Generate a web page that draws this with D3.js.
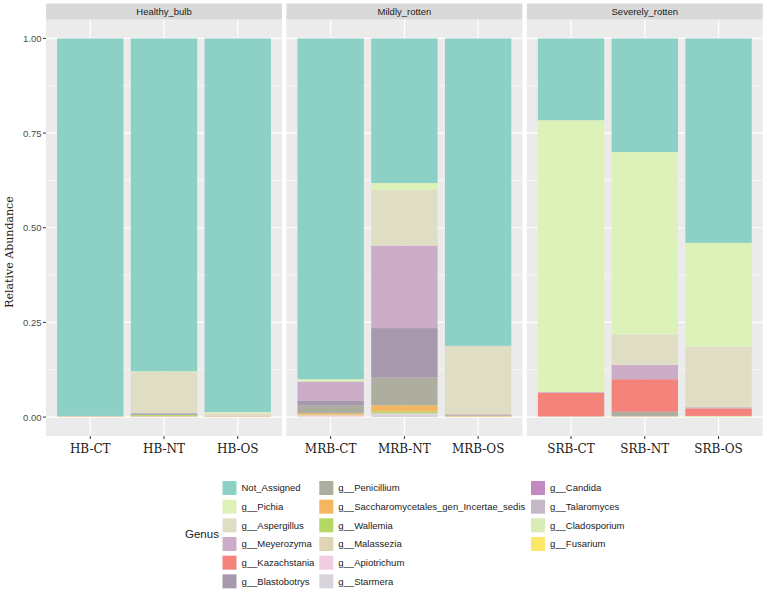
<!DOCTYPE html>
<html><head><meta charset="utf-8">
<script src="https://cdn.jsdelivr.net/npm/d3@7"></script>
<style>body{margin:0;background:#fff}svg{display:block}</style>
</head><body>
<script>
// ---- data ----
const groups = ["Healthy_bulb", "Mildly_rotten", "Severely_rotten"];
const samples = [
  ["HB-CT", "HB-NT", "HB-OS"],
  ["MRB-CT", "MRB-NT", "MRB-OS"],
  ["SRB-CT", "SRB-NT", "SRB-OS"]
];
const genera = ["Not_Assigned","g__Pichia","g__Aspergillus","g__Meyerozyma","g__Kazachstania","g__Blastobotrys",
  "g__Penicillium","g__Saccharomycetales_gen_Incertae_sedis","g__Wallemia","g__Malassezia","g__Apiotrichum","g__Starmera",
  "g__Candida","g__Talaromyces","g__Cladosporium","g__Fusarium"];
const colors = ["#8dd1c6","#ddf2b8","#dfdec5","#cbadc8","#f4837b","#a699ab","#adae9f","#f4b660","#b4d863","#e1d4b5",
  "#f2cde1","#d9d4dc","#c28ac2","#c5b9c6","#d9ecb8","#fbe86a"];
// values per genus, in sample order HB-CT..SRB-OS
const notAssigned      = [0.997,0.879,0.987, 0.900,0.382,0.812, 0.216,0.300,0.540];
const pichia           = [0.000,0.002,0.003, 0.006,0.018,0.000, 0.718,0.482,0.274];
const aspergillus      = [0.000,0.109,0.006, 0.000,0.147,0.181, 0.000,0.080,0.160];
const meyerozyma       = [0.000,0.000,0.000, 0.050,0.218,0.000, 0.002,0.038,0.003];
const kazachstania     = [0.000,0.000,0.000, 0.000,0.000,0.000, 0.062,0.086,0.020];
const blastobotrys     = [0.000,0.004,0.000, 0.014,0.131,0.003, 0.000,0.000,0.000];
const penicillium      = [0.000,0.000,0.000, 0.020,0.073,0.000, 0.000,0.011,0.000];
const saccharomycetales= [0.000,0.000,0.001, 0.004,0.016,0.002, 0.000,0.000,0.000];
const wallemia         = [0.000,0.003,0.000, 0.000,0.005,0.000, 0.000,0.000,0.000];
const malassezia       = [0.003,0.003,0.003, 0.003,0.000,0.002, 0.002,0.003,0.000];
const apiotrichum      = [0.000,0.000,0.000, 0.002,0.002,0.000, 0.000,0.000,0.000];
const starmera         = [0.000,0.000,0.000, 0.001,0.008,0.000, 0.000,0.000,0.000];
const candida          = [0,0,0, 0,0,0, 0,0,0];
const talaromyces      = [0,0,0, 0,0,0, 0,0,0];
const cladosporium     = [0,0,0, 0,0,0, 0,0,0.003];
const fusarium         = [0,0,0, 0,0,0, 0,0,0];
const yTicks = [0, 0.25, 0.5, 0.75, 1];
const yTickLabels = ["0.00","0.25","0.50","0.75","1.00"];
const yTitle = "Relative Abundance";
const legendTitle = "Genus";

const seriesValues = [notAssigned,pichia,aspergillus,meyerozyma,kazachstania,blastobotrys,penicillium,
  saccharomycetales,wallemia,malassezia,apiotrichum,starmera,candida,talaromyces,cladosporium,fusarium];

// ---- layout ----
const W = 767, H = 592;
const svg = d3.select("body").append("svg").attr("width", W).attr("height", H);
const panelLeft = 46, panelW = 236, gap = 4.4;
const stripTop = 3.5, stripH = 16, panelTop = 19.5, panelBottom = 436;
const color = d3.scaleOrdinal().domain(genera).range(colors);
const y = d3.scaleLinear().domain([-0.05, 1.05]).range([panelBottom, panelTop]);

// first genus on top of the stack
const stackKeys = genera.slice().reverse();

groups.forEach((g, gi) => {
  const x0 = panelLeft + gi * (panelW + gap);
  const sm = samples[gi];
  const rows = sm.map((s, si) => {
    const r = {sample: s};
    genera.forEach((k, ki) => r[k] = seriesValues[ki][gi * 3 + si]);
    return r;
  });
  // ggplot-like discrete positions 1..3 with 0.6 expansion, bar width 0.9
  const xc = d3.scaleLinear().domain([0.4, 3.6]).range([x0, x0 + panelW]);
  const unit = xc(2) - xc(1);
  const pg = svg.append("g");
  pg.append("rect").attr("x", x0).attr("y", panelTop).attr("width", panelW).attr("height", panelBottom - panelTop).attr("fill", "#ebebeb");
  [0.125, 0.375, 0.625, 0.875].forEach(v => pg.append("line").attr("x1", x0).attr("x2", x0 + panelW)
    .attr("y1", y(v)).attr("y2", y(v)).attr("stroke", "#fff").attr("stroke-width", 0.6));
  yTicks.forEach(v => pg.append("line").attr("x1", x0).attr("x2", x0 + panelW)
    .attr("y1", y(v)).attr("y2", y(v)).attr("stroke", "#fff").attr("stroke-width", 1.2));
  sm.forEach((s, si) => pg.append("line").attr("x1", xc(si + 1)).attr("x2", xc(si + 1))
    .attr("y1", panelTop).attr("y2", panelBottom).attr("stroke", "#fff").attr("stroke-width", 1.2));
  pg.append("rect").attr("x", x0).attr("y", stripTop).attr("width", panelW).attr("height", stripH).attr("fill", "#d9d9d9");
  pg.append("text").attr("x", x0 + panelW / 2).attr("y", stripTop + stripH / 2 + 3.5).attr("text-anchor", "middle")
    .attr("font-family", "Liberation Sans, Arial, sans-serif").attr("font-size", 9.5).attr("fill", "#1a1a1a").text(g);
  const stacked = d3.stack().keys(stackKeys)(rows);
  stacked.forEach(layer => {
    pg.selectAll(null).data(layer).join("rect")
      .attr("x", (d, i) => xc(i + 1) - unit * 0.45)
      .attr("width", unit * 0.9)
      .attr("y", d => y(d[1]))
      .attr("height", d => Math.max(0, y(d[0]) - y(d[1])))
      .attr("fill", color(layer.key));
  });
  sm.forEach((s, si) => {
    pg.append("line").attr("x1", xc(si + 1)).attr("x2", xc(si + 1)).attr("y1", panelBottom).attr("y2", panelBottom + 3)
      .attr("stroke", "#333").attr("stroke-width", 1);
    pg.append("text").attr("x", xc(si + 1)).attr("y", panelBottom + 17).attr("text-anchor", "middle")
      .attr("font-family", "DejaVu Serif, serif").attr("font-size", 12).attr("fill", "#1a1a1a").text(s);
  });
});

// y axis
yTicks.forEach((v, i) => {
  svg.append("line").attr("x1", panelLeft - 3).attr("x2", panelLeft).attr("y1", y(v)).attr("y2", y(v)).attr("stroke", "#333");
  svg.append("text").attr("x", panelLeft - 4.5).attr("y", y(v) + 3.5).attr("text-anchor", "end")
    .attr("font-family", "Liberation Sans, Arial, sans-serif").attr("font-size", 9.5).attr("fill", "#4d4d4d").text(yTickLabels[i]);
});
svg.append("text").attr("transform", `translate(13,252) rotate(-90)`)
  .attr("text-anchor", "middle").attr("font-family", "DejaVu Serif, serif").attr("font-size", 11).attr("fill", "#1a1a1a").text(yTitle);

// legend
const colX = [222.5, 319.3, 531], rowY0 = 481, rowStep = 18.67, key = 14;
const lg = svg.append("g");
lg.append("text").attr("x", 185).attr("y", 538).attr("font-family", "Liberation Sans, Arial, sans-serif")
  .attr("font-size", 11.5).attr("fill", "#1a1a1a").text(legendTitle);
genera.forEach((gname, i) => {
  const c = Math.floor(i / 6), r = i % 6;
  const kx = colX[c], ky = rowY0 + r * rowStep;
  lg.append("rect").attr("x", kx).attr("y", ky).attr("width", key).attr("height", key).attr("fill", color(gname));
  lg.append("text").attr("x", kx + 19).attr("y", ky + key / 2 + 3.4).attr("font-family", "Liberation Sans, Arial, sans-serif")
    .attr("font-size", 9.5).attr("fill", "#1a1a1a").text(gname);
});
</script>
</body></html>
